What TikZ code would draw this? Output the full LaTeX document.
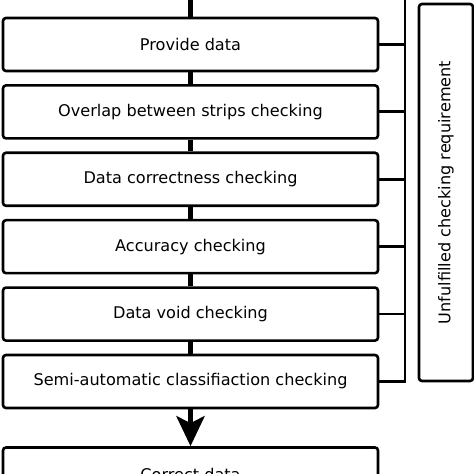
\documentclass[tikz,border=0pt]{standalone}
\usepackage{fontspec}
\setmainfont{DejaVu Sans}
\usetikzlibrary{arrows.meta}
\begin{document}
\begin{tikzpicture}[x=1pt, y=1pt,
    stepbox/.style={draw, line width=2.6pt, rounded corners=3pt, minimum width=375pt, minimum height=53pt, font=\fontsize{16.1}{19}\selectfont},
    trunk/.style={line width=5.5pt},
    rail/.style={line width=2.8pt}]
                \useasboundingbox (0, 0) rectangle (474, 474);

                \node (p1) at (190.5, 429.5) [stepbox] {Provide data};
                \node (p2) at (190.5, 362.1) [stepbox] {Overlap between strips checking};
                \node (p3) at (190.5, 294.7) [stepbox] {Data correctness checking};
                \node (p4) at (190.5, 227.3) [stepbox] {Accuracy checking};
                \node (p5) at (190.5, 159.9) [stepbox] {Data void checking};
                \node (p6) at (190.5, 92.5) [stepbox] {Semi-automatic classifiaction checking};
                \node (out) at (190.5, 0) [stepbox] {Correct data};

                \node (req) at (446, 281.5) [draw, line width=2.6pt, rounded corners=3pt, minimum width=377pt, minimum height=54pt, rotate=90, font=\fontsize{16.1}{19}\selectfont] {Unfulfilled checking requirement};

                \coordinate (in) at (190.5, 474);
                \coordinate (top) at (405, 474);

                \draw[trunk] (in) -- (p1);
                \draw[trunk] (p1) -- (p2);
                \draw[trunk] (p2) -- (p3);
                \draw[trunk] (p3) -- (p4);
                \draw[trunk] (p4) -- (p5);
                \draw[trunk] (p5) -- (p6);
                \draw[trunk, -{Stealth[width=28pt, length=30pt, inset=7pt]}] (p6) -- (out);

                \draw[rail] (top) -- (top |- p6.east) -- (p6.east);
                \draw[rail] (p1.east) -- (p1.east -| top);
                \draw[rail] (p2.east) -- (p2.east -| top);
                \draw[rail] (p3.east) -- (p3.east -| top);
                \draw[rail] (p4.east) -- (p4.east -| top);
                \draw[rail] (p5.east) -- (p5.east -| top);
            \end{tikzpicture}
\end{document}
